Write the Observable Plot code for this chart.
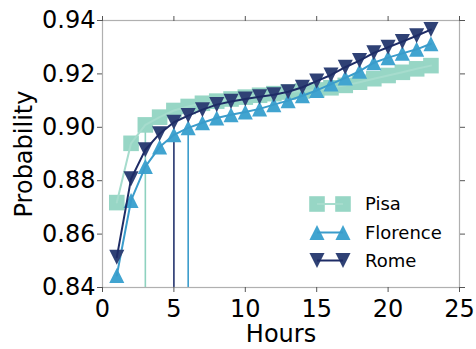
<!DOCTYPE html>
<html>
<head>
<meta charset="utf-8">
<script src="https://cdn.jsdelivr.net/npm/d3@7"></script>
<script src="https://cdn.jsdelivr.net/npm/@observablehq/plot@0.6"></script>
<style>
  html, body { margin: 0; padding: 0; background: #fff; }
  #chart { position: relative; width: 476px; height: 349px; }
</style>
</head>
<body>
<div id="chart"></div>
<script>
const hours = [1,2,3,4,5,6,7,8,9,10,11,12,13,14,15,16,17,18,19,20,21,22,23];
const pisa = [0.8718,0.8940,0.9009,0.9038,0.9063,0.9078,0.9090,0.9098,0.9106,0.9113,0.9120,0.9126,0.9132,0.9136,0.9140,0.9148,0.9157,0.9169,0.9182,0.9194,0.9206,0.9219,0.9231];
const florence = [0.8445,0.8726,0.8853,0.8926,0.8972,0.8998,0.9017,0.9035,0.9047,0.9057,0.9069,0.9085,0.9100,0.9118,0.9138,0.9162,0.9185,0.9210,0.9242,0.9261,0.9277,0.9292,0.9313];
const rome = [0.8513,0.8807,0.8916,0.8976,0.9019,0.9044,0.9066,0.9085,0.9097,0.9106,0.9114,0.9122,0.9133,0.9150,0.9173,0.9196,0.9225,0.9250,0.9279,0.9300,0.9321,0.9343,0.9366];
const seriesNames = ["Pisa","Florence","Rome"];
const thresholdHours = {Pisa: 3, Florence: 6, Rome: 5};
const xTicks = [0,5,10,15,20,25];
const yTicks = [0.84,0.86,0.88,0.90,0.92,0.94];

const markerColor = {Pisa: "#97d6c5", Florence: "#41a4d0", Rome: "#2f4175"};
const lineColor = {Pisa: "#a6dccd", Florence: "#3a9ccb", Rome: "#1e2c66"};
const ruleColor = {Pisa: "#8ed2bf", Florence: "#3a9ccb", Rome: "#24346e"};

const squareSym = {draw(ctx, size) { const h = Math.sqrt(size) / 2; ctx.moveTo(-h,-h); ctx.lineTo(h,-h); ctx.lineTo(h,h); ctx.lineTo(-h,h); ctx.closePath(); }};
const triSym = (dir) => ({draw(ctx, size) { const h = Math.sqrt(size) / 2; ctx.moveTo(0, -dir*h); ctx.lineTo(h, dir*h); ctx.lineTo(-h, dir*h); ctx.closePath(); }});
const symbols = {Pisa: squareSym, Florence: triSym(1), Rome: triSym(-1)};
const radii = {Pisa: 8.8, Florence: 8.5, Rome: 8.5};

const valuesBy = {Pisa: pisa, Florence: florence, Rome: rome};
const series = seriesNames.map(name => ({name, data: hours.map((h, i) => ({hour: h, p: valuesBy[name][i]}))}));
const rules = seriesNames.map(name => {
  const h = thresholdHours[name];
  return {name, hour: h, p: valuesBy[name][hours.indexOf(h)]};
});

const marks = [];
for (const r of rules) {
  marks.push(Plot.ruleX([r], {x: "hour", y1: 0.84, y2: "p", stroke: ruleColor[r.name], strokeWidth: 1.6}));
}
for (const s of series) {
  marks.push(Plot.dot(s.data, {x: "hour", y: "p", symbol: symbols[s.name], r: radii[s.name], fill: markerColor[s.name], stroke: "none"}));
  marks.push(Plot.line(s.data, {x: "hour", y: "p", stroke: lineColor[s.name], strokeWidth: 2}));
}
marks.push(Plot.frame({stroke: "#b0b0b0", strokeWidth: 1.2}));
marks.push(Plot.axisX({anchor: "bottom", ticks: xTicks, tickSize: 5, tickPadding: 7, stroke: "#555", label: "Hours", labelAnchor: "center", labelArrow: "none", labelOffset: 54, fontSize: 24}));
marks.push(Plot.axisX({anchor: "top", ticks: xTicks, tickSize: 5, tickFormat: () => "", stroke: "#555", label: null}));
marks.push(Plot.axisY({anchor: "left", ticks: yTicks, tickSize: 5, tickPadding: 2, tickFormat: d3.format(".2f"), stroke: "#555", label: "Probability", labelAnchor: "center", labelArrow: "none", labelOffset: 88, fontSize: 24}));
marks.push(Plot.axisY({anchor: "right", ticks: yTicks, tickSize: 5, tickFormat: () => "", stroke: "#555", label: null}));

const chart = Plot.plot({
  width: 476,
  height: 349,
  marginLeft: 102,
  marginRight: 17,
  marginTop: 20,
  marginBottom: 62,
  style: {fontFamily: "DejaVu Sans", fontSize: "24px", color: "#000", background: "#fff"},
  x: {domain: [0, 25]},
  y: {domain: [0.84, 0.94]},
  marks
});
document.getElementById("chart").appendChild(chart);

// legend (drawn into the same SVG)
const svg = d3.select(chart);
const lg = svg.append("g").attr("font-family", "DejaVu Sans").attr("font-size", 18).attr("text-anchor", "start");
const legendRowsY = [204, 232.5, 260.5];
seriesNames.forEach((name, i) => {
  const y = legendRowsY[i];
  const g = lg.append("g").attr("transform", `translate(0,${y})`);
  const size = Math.PI * radii[name] * radii[name];
  const p = d3.symbol(symbols[name], size)();
  g.append("path").attr("d", p).attr("transform", "translate(317,0)").attr("fill", markerColor[name]);
  g.append("path").attr("d", p).attr("transform", "translate(343,0)").attr("fill", markerColor[name]);
  g.append("line").attr("x1", 317).attr("x2", 343).attr("y1", 0).attr("y2", 0).attr("stroke", lineColor[name]).attr("stroke-width", 2);
  g.append("text").attr("x", 365).attr("y", 0).attr("dy", "0.35em").attr("text-anchor", "start").attr("fill", "#000").text(name);
});
</script>
</body>
</html>
